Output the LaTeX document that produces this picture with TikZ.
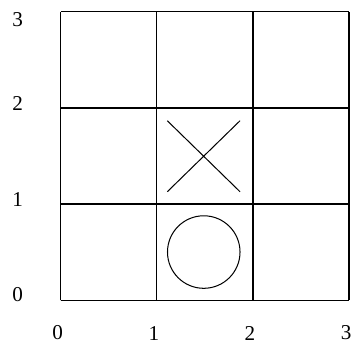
\documentclass[tikz,border=0pt]{standalone}
\usepackage{fontspec}
\setmainfont{Liberation Serif}
\usepackage{tikz}

\begin{document}
\begin{tikzpicture}[x=2cm,y=2cm,
    ticklabel/.style={font=\fontsize{12.5}{14}\selectfont,inner sep=0pt},
    board/.style={line width=0.8pt},
    playmark/.style={line width=0.6pt}]
  \useasboundingbox (-0.629,-0.444) rectangle (3.030,3.122);
  % board
  \draw[board,step=2cm] (0,0) grid (3,3);
  % axis numbers
  \foreach \v in {0,...,3}
    \node[ticklabel] (xlab\v) at (\v-0.03,-0.34) {\v};
  \foreach \v/\y in {0/0.058,1/1.043,2/2.046,3/2.917}
    \node[ticklabel] (ylab\v) at (-0.445,\y) {\v};
  % cross and nought
  \draw[playmark] (1.110,1.867) -- (1.866,1.129) (1.110,1.129) -- (1.866,1.867);
  \draw[playmark] (1.489,0.502) circle (0.377);
\end{tikzpicture}
\end{document}
